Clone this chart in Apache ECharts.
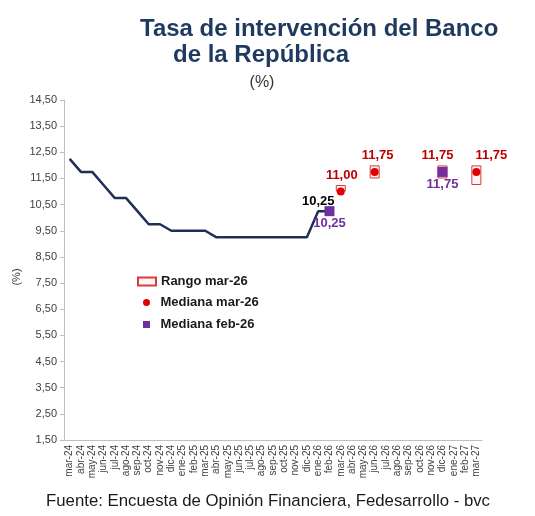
<!DOCTYPE html>
<html><head><meta charset="utf-8">
<script src="https://cdn.jsdelivr.net/npm/echarts@6/dist/echarts.min.js"></script>
<style>html,body{margin:0;padding:0;background:#fff}#c{width:535px;height:516px}</style>
</head><body><div id="c"></div>
<script>
// ---- Data ----
const months = ['mar-24','abr-24','may-24','jun-24','jul-24','ago-24','sep-24','oct-24','nov-24','dic-24',
  'ene-25','feb-25','mar-25','abr-25','may-25','jun-25','jul-25','ago-25','sep-25','oct-25','nov-25','dic-25',
  'ene-26','feb-26','mar-26','abr-26','may-26','jun-26','jul-26','ago-26','sep-26','oct-26','nov-26','dic-26',
  'ene-27','feb-27','mar-27'];
// Observed policy rate (mar-24 .. feb-26)
const tasaObservada = [12.25, 11.75, 11.75, 11.25, 10.75, 10.75, 10.25, 9.75, 9.75, 9.50,
  9.50, 9.50, 9.50, 9.25, 9.25, 9.25, 9.25, 9.25, 9.25, 9.25, 9.25, 9.25,
  10.25, 10.25];
const tasaLabelMonth = 'ene-26';
// Survey mar-26
const surveyMonths = ['mar-26', 'jun-26', 'dic-26', 'mar-27'];
const medianaMar26 = [11.00, 11.75, 11.75, 11.75];
const rangoMinMar26 = [11.00, 11.50, 11.50, 11.25];
const rangoMaxMar26 = [11.25, 12.00, 12.00, 12.00];
// Survey feb-26
const febMonths = ['feb-26', 'dic-26'];
const medianaFeb26 = [10.25, 11.75];

const yMin = 1.5, yMax = 14.5, yStep = 1;

// ---- Styles (kept separate from data) ----
const redLabelDx = {'mar-26': 1, 'jun-26': 3, 'dic-26': -5, 'mar-27': 15};
const fmt = v => v.toFixed(2).replace('.', ',');
const font = 'Liberation Sans, Arial, sans-serif';

const lineData = months.map((m, i) => {
  const v = i < tasaObservada.length ? tasaObservada[i] : null;
  if (m === tasaLabelMonth && v != null) {
    return {value: v, label: {show: true, position: 'top', distance: 3, formatter: fmt(v),
      color: '#000', fontWeight: 'bold', fontSize: 13, fontFamily: font}};
  }
  return v;
});
const baseData = months.map(m => {
  const k = surveyMonths.indexOf(m);
  return k >= 0 ? rangoMinMar26[k] : null;
});
const rangeData = months.map(m => {
  const k = surveyMonths.indexOf(m);
  if (k < 0) return null;
  return {value: +(rangoMaxMar26[k] - rangoMinMar26[k]).toFixed(4),
    label: {show: true, position: 'top', distance: 3, offset: [redLabelDx[m] || 0, 0],
      formatter: fmt(medianaMar26[k])}};
});
const redData = surveyMonths.map((m, k) => [m, medianaMar26[k]]);
const purpleData = febMonths.map((m, k) => [m, medianaFeb26[k]]);

const chart = echarts.init(document.getElementById('c'), null, {renderer: 'canvas'});
const legendBase = {orient: 'vertical', padding: 0, itemWidth: 18, itemGap: 8,
  symbolKeepAspect: true, textStyle: {fontFamily: font, fontSize: 13, fontWeight: 'bold', color: '#1a1a1a'}};
chart.setOption({
  animation: false,
  backgroundColor: '#fff',
  grid: {left: 64, right: 53, top: 100, bottom: 76, containLabel: false},
  graphic: [
    {type: 'text', x: 140, y: 29, style: {text: 'Tasa de intervención del Banco', font: 'bold 24px ' + font, fill: '#1f3a5f', verticalAlign: 'middle'}},
    {type: 'text', x: 173, y: 55, style: {text: 'de la República', font: 'bold 24px ' + font, fill: '#1f3a5f', verticalAlign: 'middle'}},
    {type: 'text', x: 262, y: 83, style: {text: '(%)', font: '16px ' + font, fill: '#333', align: 'center', verticalAlign: 'middle'}},
    {type: 'text', x: 17, y: 277, rotation: Math.PI / 2, style: {text: '(%)', font: '11px ' + font, fill: '#333', align: 'center', verticalAlign: 'middle'}},
    {type: 'text', x: 46, y: 501, style: {text: 'Fuente: Encuesta de Opinión Financiera, Fedesarrollo - bvc', font: '16.8px ' + font, fill: '#1a1a1a', verticalAlign: 'middle'}}
  ],
  legend: [
    Object.assign({}, legendBase, {left: 137, top: 275, itemHeight: 8, data: [{name: 'Rango mar-26', icon: 'rect'}]}),
    Object.assign({}, legendBase, {left: 143, top: 296, itemHeight: 7, data: [{name: 'Mediana mar-26', icon: 'circle'}]}),
    Object.assign({}, legendBase, {left: 143, top: 318, itemHeight: 7, data: [{name: 'Mediana feb-26', icon: 'path://M0,0L10,0L10,10L0,10Z'}]})
  ],
  xAxis: {
    type: 'category', data: months, boundaryGap: true,
    axisLine: {lineStyle: {color: '#bfbfbf', width: 1}},
    axisTick: {show: false},
    axisLabel: {interval: 0, rotate: 90, fontSize: 10, color: '#404040', margin: 5, fontFamily: font},
    splitLine: {show: false}
  },
  yAxis: {
    type: 'value', min: yMin, max: yMax, interval: yStep,
    axisLine: {show: true, lineStyle: {color: '#bfbfbf', width: 1}},
    axisTick: {show: true, length: 4, lineStyle: {color: '#bfbfbf'}},
    axisLabel: {fontSize: 11, color: '#404040', margin: 7, fontFamily: font, formatter: v => fmt(v)},
    splitLine: {show: false}
  },
  series: [
    {name: 'Tasa', type: 'line', data: lineData, symbol: 'circle', symbolSize: 0.1, showSymbol: true,
      connectNulls: false, lineStyle: {color: '#1f2f5a', width: 2.5}, itemStyle: {color: '#1f2f5a'}, z: 2},
    {name: 'base', type: 'bar', stack: 'rng', data: baseData, barWidth: 10,
      itemStyle: {color: 'rgba(0,0,0,0)'}, silent: true, z: 1},
    {name: 'Rango mar-26', type: 'bar', stack: 'rng', data: rangeData, barWidth: 10,
      itemStyle: {color: '#fff4f4', borderColor: '#d83c3c', borderWidth: 1},
      label: {color: '#c00000', fontWeight: 'bold', fontSize: 13, fontFamily: font}, z: 3},
    {name: 'Mediana mar-26', type: 'scatter', data: redData, symbol: 'circle', symbolSize: 8,
      itemStyle: {color: '#e00000', opacity: 1}, z: 4},
    {name: 'Mediana feb-26', type: 'scatter', data: purpleData, symbol: 'rect', symbolSize: 10,
      itemStyle: {color: '#7030a0', opacity: 1},
      label: {show: true, position: 'bottom', distance: 1, formatter: p => fmt(p.value[1]),
        color: '#7030a0', fontWeight: 'bold', fontSize: 13, fontFamily: font}, z: 5}
  ]
});
</script></body></html>
